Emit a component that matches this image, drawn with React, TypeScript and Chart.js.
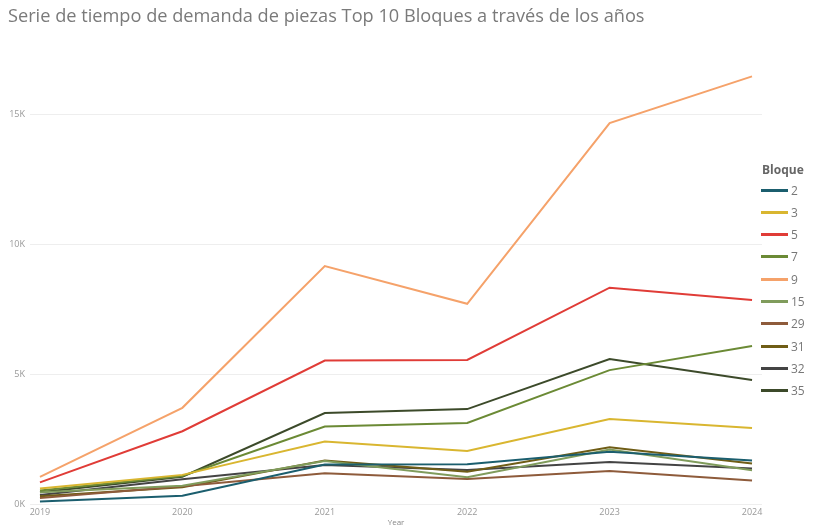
import React, { useEffect, useRef } from "react";
import { Chart, registerables } from "chart.js";

Chart.register(...registerables);

const TITLE = "Serie de tiempo de demanda de piezas Top 10 Bloques a través de los años";
const years = [2019, 2020, 2021, 2022, 2023, 2024];
const bloques = ["2", "3", "5", "7", "9", "15", "29", "31", "32", "35"];
const yTickValues = [0, 5000, 10000, 15000];

const b2 = [100, 320, 1520, 1530, 2010, 1670];
const b3 = [600, 1120, 2400, 2040, 3270, 2920];
const b5 = [830, 2800, 5520, 5540, 8320, 7850];
const b7 = [520, 1080, 2980, 3120, 5150, 6080];
const b9 = [1040, 3700, 9150, 7700, 14650, 16450];
const b15 = [450, 700, 1650, 1030, 2100, 1300];
const b29 = [230, 680, 1180, 960, 1270, 900];
const b31 = [300, 640, 1670, 1240, 2180, 1560];
const b32 = [350, 950, 1500, 1310, 1620, 1370];
const b35 = [450, 1050, 3500, 3650, 5580, 4770];

const seriesValues = [b2, b3, b5, b7, b9, b15, b29, b31, b32, b35];
const colors = [
  "#1b5e6e",
  "#d9b630",
  "#e03c37",
  "#6b8a35",
  "#f5a26a",
  "#809c5c",
  "#8e5b3b",
  "#6f5d16",
  "#444444",
  "#3c4a2a",
];

const FONT = "'Open Sans', 'Noto Sans', sans-serif";

export default function App() {
  const ref = useRef<HTMLCanvasElement | null>(null);

  useEffect(() => {
    if (!ref.current) return;
    const chart = new Chart(ref.current, {
      type: "line",
      data: {
        datasets: bloques.map((b, i) => ({
          label: b,
          data: years.map((y, j) => ({ x: y, y: seriesValues[i][j] })),
          borderColor: colors[i],
          backgroundColor: colors[i],
          borderWidth: 2,
          pointRadius: 0,
          tension: 0,
        })),
      },
      options: {
        animation: false,
        responsive: false,
        maintainAspectRatio: false,
        layout: { padding: { left: 8, right: 61, top: 4, bottom: 0 } },
        plugins: {
          legend: { display: false },
          tooltip: { enabled: false },
          title: {
            display: true,
            text: TITLE,
            align: "start",
            color: "#7a7a7a",
            font: { family: FONT, size: 18.2, weight: "normal" },
            padding: { top: 2, bottom: 21.2 },
          },
        },
        scales: {
          x: {
            type: "linear",
            min: 2018.93,
            max: 2024.07,
            grid: { display: false, drawTicks: false },
            border: { display: false },
            afterBuildTicks: (s: any) => {
              s.ticks = years.map((v) => ({ value: v }));
            },
            ticks: {
              autoSkip: false,
              maxRotation: 0,
              padding: 3,
              color: "#999999",
              font: { family: FONT, size: 9 },
              callback: (v: any) => String(v),
            },
            title: {
              display: true,
              text: "Year",
              color: "#888888",
              font: { family: FONT, size: 8 },
              padding: { top: 0, bottom: 1 },
            },
            afterFit: (s: any) => {
              s.height = 25;
            },
          },
          y: {
            min: 0,
            max: 17500,
            grid: { color: "#eeeeee", drawTicks: false },
            border: { display: false },
            afterBuildTicks: (s: any) => {
              s.ticks = yTickValues.map((v) => ({ value: v }));
            },
            ticks: {
              padding: 5,
              color: "#999999",
              font: { family: FONT, size: 9 },
              callback: (v: any) => `${Number(v) / 1000}K`,
            },
            afterFit: (s: any) => {
              s.width = 22;
            },
          },
        },
      },
    });
    return () => chart.destroy();
  }, []);

  return (
    <div style={{ position: "absolute", left: 0, top: 0, width: 823, height: 529, background: "#fff" }}>
      <canvas ref={ref} width={823} height={529} style={{ display: "block" }} />
      <div style={{ position: "absolute", left: 762, top: 161, fontFamily: FONT }}>
        <div style={{ fontSize: 12, fontWeight: "bold", color: "#666666", height: 18, lineHeight: "18px" }}>
          Bloque
        </div>
        {bloques.map((b, i) => (
          <div
            key={b}
            style={{ position: "absolute", left: 0, top: 18 + i * 22.3, height: 22, display: "flex", alignItems: "center" }}
          >
            <div style={{ width: 27, height: 3, background: colors[i], marginLeft: -1 }} />
            <div style={{ marginLeft: 3, fontSize: 12, color: "#777777" }}>{b}</div>
          </div>
        ))}
      </div>
    </div>
  );
}
